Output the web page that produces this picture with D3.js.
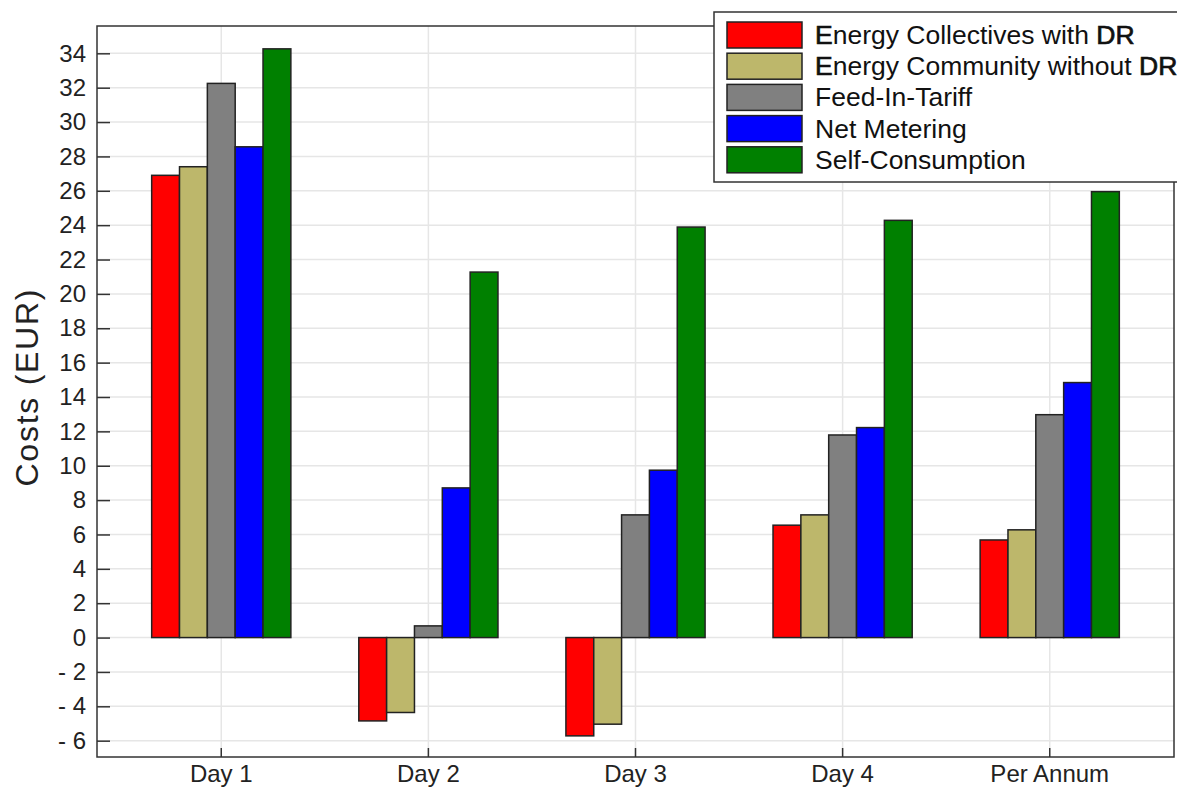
<!DOCTYPE html>
<html>
<head>
<meta charset="utf-8">
<script src="https://cdn.jsdelivr.net/npm/d3@7"></script>
<style>
  html, body { margin: 0; padding: 0; background: #fff; }
  svg { display: block; font-family: "Liberation Sans", Arial, Helvetica, sans-serif; }
</style>
</head>
<body>
<svg id="chart" width="1177" height="790"></svg>
<script>
// ---- data ----
const categories = ["Day 1", "Day 2", "Day 3", "Day 4", "Per Annum"];
const seriesNames = [
  "Energy Collectives with DR",
  "Energy Community without DR",
  "Feed-In-Tariff",
  "Net Metering",
  "Self-Consumption"
];
const seriesColors = ["#ff0000", "#bdb76b", "#808080", "#0000ff", "#008000"];
const energyCollectivesDR = [26.9, -4.85, -5.72, 6.54, 5.68];
const energyCommunityNoDR = [27.4, -4.36, -5.04, 7.14, 6.27];
const feedInTariff        = [32.25, 0.68, 7.14, 11.79, 12.97];
const netMetering         = [28.56, 8.71, 9.74, 12.22, 14.84];
const selfConsumption     = [34.26, 21.27, 23.89, 24.28, 25.95];
const seriesValues = [energyCollectivesDR, energyCommunityNoDR, feedInTariff, netMetering, selfConsumption];
const yTicks = [-6, -4, -2, 0, 2, 4, 6, 8, 10, 12, 14, 16, 18, 20, 22, 24, 26, 28, 30, 32, 34];

// ---- layout ----
const svg = d3.select("#chart");
const L = 97, R = 1174, T = 26, B = 757;
const x0 = d3.scaleBand().domain(categories).range([L, R]).paddingInner(0).paddingOuter(0.1);
const groupW = x0.bandwidth() * 0.672;
const x1 = d3.scaleBand().domain(seriesNames).range([0, groupW]).padding(0);
const y = d3.scaleLinear().domain([-6.95, 35.59]).range([B, T]);

// gridlines
const grid = svg.append("g");
grid.selectAll("line.h").data(yTicks).join("line")
  .attr("x1", L).attr("x2", R)
  .attr("y1", d => y(d)).attr("y2", d => y(d))
  .attr("stroke", "#e6e6e6").attr("stroke-width", 1.5);
grid.selectAll("line.v").data(categories).join("line")
  .attr("x1", d => x0(d) + x0.bandwidth() / 2).attr("x2", d => x0(d) + x0.bandwidth() / 2)
  .attr("y1", T).attr("y2", B)
  .attr("stroke", "#e6e6e6").attr("stroke-width", 1.5);

// bars
const groups = svg.append("g").selectAll("g").data(categories).join("g")
  .attr("transform", d => `translate(${x0(d) + (x0.bandwidth() - groupW) / 2},0)`);
groups.selectAll("rect").data((c, ci) => seriesNames.map((s, si) => ({ s, si, v: seriesValues[si][ci] })))
  .join("rect")
  .attr("x", d => x1(d.s))
  .attr("width", x1.bandwidth())
  .attr("y", d => y(Math.max(0, d.v)))
  .attr("height", d => Math.abs(y(d.v) - y(0)))
  .attr("fill", d => seriesColors[d.si])
  .attr("stroke", "#222")
  .attr("stroke-width", 1.5);

// axes
const yAxis = d3.axisLeft(y).tickValues(yTicks).tickSize(-13).tickPadding(24)
  .tickFormat(d => d < 0 ? "- " + Math.abs(d) : String(d));
const gy = svg.append("g").attr("transform", `translate(${L},0)`).call(yAxis);
gy.select(".domain").remove();
gy.selectAll(".tick line").attr("stroke", "#333").attr("stroke-width", 1.5);
gy.selectAll(".tick text").attr("font-size", 24).attr("fill", "#222")
  .attr("font-family", "Liberation Sans, Arial, sans-serif").attr("x", -11);

const xAxis = d3.axisBottom(x0).tickSize(-9).tickPadding(8);
const gx = svg.append("g").attr("transform", `translate(0,${B})`).call(xAxis);
gx.select(".domain").remove();
gx.selectAll(".tick line").attr("stroke", "#333").attr("stroke-width", 1.5);
gx.selectAll(".tick text").attr("font-size", 24).attr("fill", "#222")
  .attr("font-family", "Liberation Sans, Arial, sans-serif");

// frame
svg.append("rect").attr("x", L).attr("y", T).attr("width", R - L).attr("height", B - T)
  .attr("fill", "none").attr("stroke", "#333").attr("stroke-width", 1.5);

// y label
svg.append("text")
  .attr("transform", `translate(38,388) rotate(-90)`)
  .attr("text-anchor", "middle")
  .attr("font-size", 32).attr("fill", "#222")
  .attr("textLength", 197).attr("lengthAdjust", "spacing")
  .text("Costs (EUR)");

// legend
const lg = svg.append("g");
lg.append("rect").attr("x", 714).attr("y", 12).attr("width", 500).attr("height", 170)
  .attr("fill", "#fff").attr("stroke", "#333").attr("stroke-width", 1.5);
const items = lg.selectAll("g.item").data(seriesNames).join("g")
  .attr("transform", (d, i) => `translate(0,${22 + i * 31.2})`);
items.append("rect").attr("x", 727).attr("y", 0).attr("width", 75).attr("height", 26)
  .attr("fill", (d, i) => seriesColors[i]).attr("stroke", "#222").attr("stroke-width", 1.5);
items.append("text").attr("x", 815).attr("y", 22).attr("font-size", 26.5).attr("fill", "#111")
  .each(function(d) {
    const t = d3.select(this);
    const parts = d.match(/^(E)(.*?)(DR)?$/);
    if (parts) {
      t.append("tspan").attr("stroke", "#111").attr("stroke-width", 0.7).text(parts[1]);
      t.append("tspan").text(parts[2]);
      if (parts[3]) t.append("tspan").attr("stroke", "#111").attr("stroke-width", 0.7).text(parts[3]);
    } else {
      t.text(d);
    }
  });
</script>
</body>
</html>
